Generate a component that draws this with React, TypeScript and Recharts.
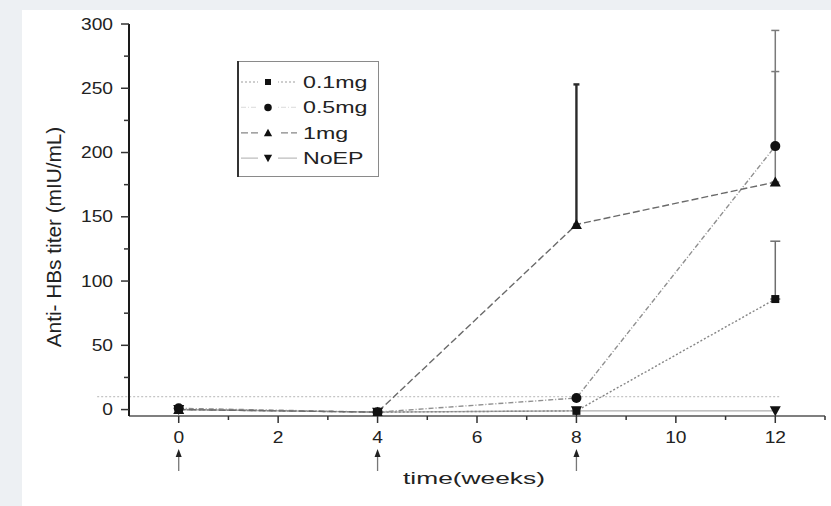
import { ComposedChart, ErrorBar, Label, Legend, Line, ReferenceLine, XAxis, YAxis } from "recharts";

const weeks = [0, 4, 8, 12];
const dose01 = [0, -2, -1, 86];
const dose05 = [1, -2, 9, 205];
const dose1 = [0, -2, 144, 177];
const noEP = [0, -2, -1, -1];
// one-sided (upper) error bars, [below, above]
const err01 = [null, null, null, [0, 45]];
const err05 = [null, null, null, [0, 90]];
const err1Wk8 = [null, null, [0, 109], null];
const err1Wk12 = [null, null, null, [0, 86]];

const xTicks = [0, 1, 2, 3, 4, 5, 6, 7, 8, 9, 10, 11, 12, 13];
const yTicks = [0, 25, 50, 75, 100, 125, 150, 175, 200, 225, 250, 275, 300];
const boostWeeks = [0, 4, 8];
const protectiveLevel = 10;

const data = weeks.map((w, i) => ({
  week: w,
  d01: dose01[i],
  d05: dose05[i],
  d1: dose1[i],
  noEP: noEP[i],
  e01: err01[i],
  e05: err05[i],
  e1a: err1Wk8[i],
  e1b: err1Wk12[i],
}));

const FONT = "'Liberation Sans', Arial, sans-serif";

const series = [
  { key: "noEP", name: "NoEP", shape: "down", stroke: "#adadad", dash: undefined },
  { key: "d01", name: "0.1mg", shape: "square", stroke: "#858585", dash: "2 2" },
  { key: "d05", name: "0.5mg", shape: "circle", stroke: "#8f8f8f", dash: "5 2 1 2" },
  { key: "d1", name: "1mg", shape: "triangle", stroke: "#6a6a6a", dash: "7 3" },
];
const legendOrder = ["d01", "d05", "d1", "noEP"];

function Marker({ cx, cy, shape, s = 1 }: { cx: number; cy: number; shape: string; s?: number }) {
  if (shape === "square") return <rect x={cx - 4 * s} y={cy - 4 * s} width={8 * s} height={8 * s} fill="#111" />;
  if (shape === "circle") return <circle cx={cx} cy={cy} r={5 * s} fill="#111" />;
  if (shape === "triangle")
    return <path d={`M${cx},${cy - 5.5 * s}L${cx + 5.5 * s},${cy + 4.5 * s}L${cx - 5.5 * s},${cy + 4.5 * s}Z`} fill="#111" />;
  return <path d={`M${cx},${cy + 5.5 * s}L${cx + 5.5 * s},${cy - 4.5 * s}L${cx - 5.5 * s},${cy - 4.5 * s}Z`} fill="#111" />;
}

const XTick = ({ x, y, payload }: any) => {
  const v = payload.value;
  const major = v % 2 === 0 && v <= 12;
  return (
    <g>
      <line x1={x} x2={x} y1={y} y2={y + (major ? 7 : 4)} stroke="#333" strokeWidth={1.5} />
      {major && (
        <text transform={`translate(${x},${y + 27}) scale(1.2,1)`} textAnchor="middle" fontSize={16} fill="#222" fontFamily={FONT}>
          {v}
        </text>
      )}
      {boostWeeks.includes(v) && (
        <g>
          <line x1={x} x2={x} y1={y + 38} y2={y + 55} stroke="#777" strokeWidth={1.3} />
          <path d={`M${x},${y + 33}L${x + 3},${y + 41}L${x - 3},${y + 41}Z`} fill="#222" />
        </g>
      )}
    </g>
  );
};

const YTick = ({ x, y, payload }: any) => {
  const v = payload.value;
  const major = v % 50 === 0;
  return (
    <g>
      <line x1={x - (major ? 8 : 5)} x2={x} y1={y} y2={y} stroke="#333" strokeWidth={1.5} />
      {major && (
        <text transform={`translate(${x - 16},${y + 5.5}) scale(1.2,1)`} textAnchor="end" fontSize={16} fill="#222" fontFamily={FONT}>
          {v}
        </text>
      )}
    </g>
  );
};

const LegendBox = () => (
  <svg width={142} height={116}>
    <rect x={0.5} y={0.5} width={141} height={115} fill="#fff" stroke="#8a8a8a" />
    <line x1={1} x2={1} y1={0} y2={116} stroke="#333" strokeWidth={2} />
    {legendOrder.map((k, i) => {
      const s = series.find((d) => d.key === k)!;
      const cy = 21 + i * 25.4;
      return (
        <g key={k}>
          <line x1={4} x2={60} y1={cy} y2={cy} stroke={s.stroke} strokeWidth={1.2} strokeDasharray={s.dash} opacity={k === "d05" ? 0.25 : 0.8} />
          <rect x={21} y={cy - 5} width={20} height={10} fill="#fff" />
          <Marker cx={31} cy={cy} shape={s.shape} s={0.75} />
          <text transform={`translate(66,${cy + 6}) scale(1.45,1)`} fontSize={16} fill="#222" fontFamily={FONT}>
            {s.name}
          </text>
        </g>
      );
    })}
  </svg>
);

const XLabel = ({ viewBox }: any) => (
  <text
    transform={`translate(${viewBox.x + viewBox.width / 2 - 3},${viewBox.y + 68}) scale(1.55,1)`}
    textAnchor="middle"
    fontSize={17}
    fill="#222"
    fontFamily={FONT}
  >
    time(weeks)
  </text>
);

const YLabel = ({ viewBox }: any) => (
  <text
    transform={`translate(${viewBox.x + 61},${viewBox.y + 213}) rotate(-90) scale(1.3,1.25)`}
    textAnchor="middle"
    fontSize={16}
    fill="#222"
    fontFamily={FONT}
  >
    Anti- HBs titer (mIU/mL)
  </text>
);

export default function App() {
  return (
    <div style={{ position: "absolute", left: 0, top: 0, width: 831, height: 506, background: "#edf0f3" }}>
      <div style={{ position: "absolute", left: 22, top: 10, width: 809, height: 496, background: "#fff" }} />
      <div style={{ position: "absolute", left: 0, top: 0 }}>
        <ComposedChart width={831} height={506} data={data} margin={{ top: 24, right: 6, bottom: 0, left: 0 }}>
          <XAxis
            dataKey="week"
            type="number"
            domain={[-1, 13]}
            ticks={xTicks}
            interval={0}
            height={90}
            tickSize={0}
            tickMargin={0}
            tickLine={false}
            tick={<XTick />}
            axisLine={{ stroke: "#555", strokeWidth: 1.5 }}
          >
            <Label content={<XLabel />} />
          </XAxis>
          <YAxis
            type="number"
            domain={[-5, 300]}
            allowDataOverflow
            ticks={yTicks}
            interval={0}
            width={129}
            tickSize={0}
            tickMargin={0}
            tickLine={false}
            tick={<YTick />}
            axisLine={{ stroke: "#1a1a1a", strokeWidth: 2 }}
          >
            <Label content={<YLabel />} />
          </YAxis>
          <ReferenceLine
            segment={[
              { x: -1.64, y: protectiveLevel },
              { x: 12.1, y: protectiveLevel },
            ]}
            ifOverflow="visible"
            stroke="#b5b5b5"
            strokeDasharray="2 2"
          />
          <Legend
            layout="vertical"
            align="center"
            verticalAlign="middle"
            content={<LegendBox />}
            wrapperStyle={{ left: 237, top: 61, width: 142, height: 116 }}
          />
          {series.map((s) => (
            <Line
              key={s.key}
              dataKey={s.key}
              name={s.name}
              type="linear"
              stroke={s.stroke}
              strokeWidth={1.4}
              strokeDasharray={s.dash}
              isAnimationActive={false}
              dot={(p: any) => <Marker key={`${s.key}-${p.index}`} cx={p.cx} cy={p.cy} shape={s.shape} />}
              activeDot={false}
            >
              {s.key === "d01" && <ErrorBar dataKey="e01" width={5} stroke="#6e6e6e" strokeWidth={1.5} direction="y" />}
              {s.key === "d05" && <ErrorBar dataKey="e05" width={4} stroke="#7a7a7a" strokeWidth={1.5} direction="y" />}
              {s.key === "d1" && <ErrorBar dataKey="e1a" width={3} stroke="#2a2a2a" strokeWidth={2.4} direction="y" />}
              {s.key === "d1" && <ErrorBar dataKey="e1b" width={4} stroke="#7a7a7a" strokeWidth={1.5} direction="y" />}
            </Line>
          ))}
        </ComposedChart>
      </div>
    </div>
  );
}
